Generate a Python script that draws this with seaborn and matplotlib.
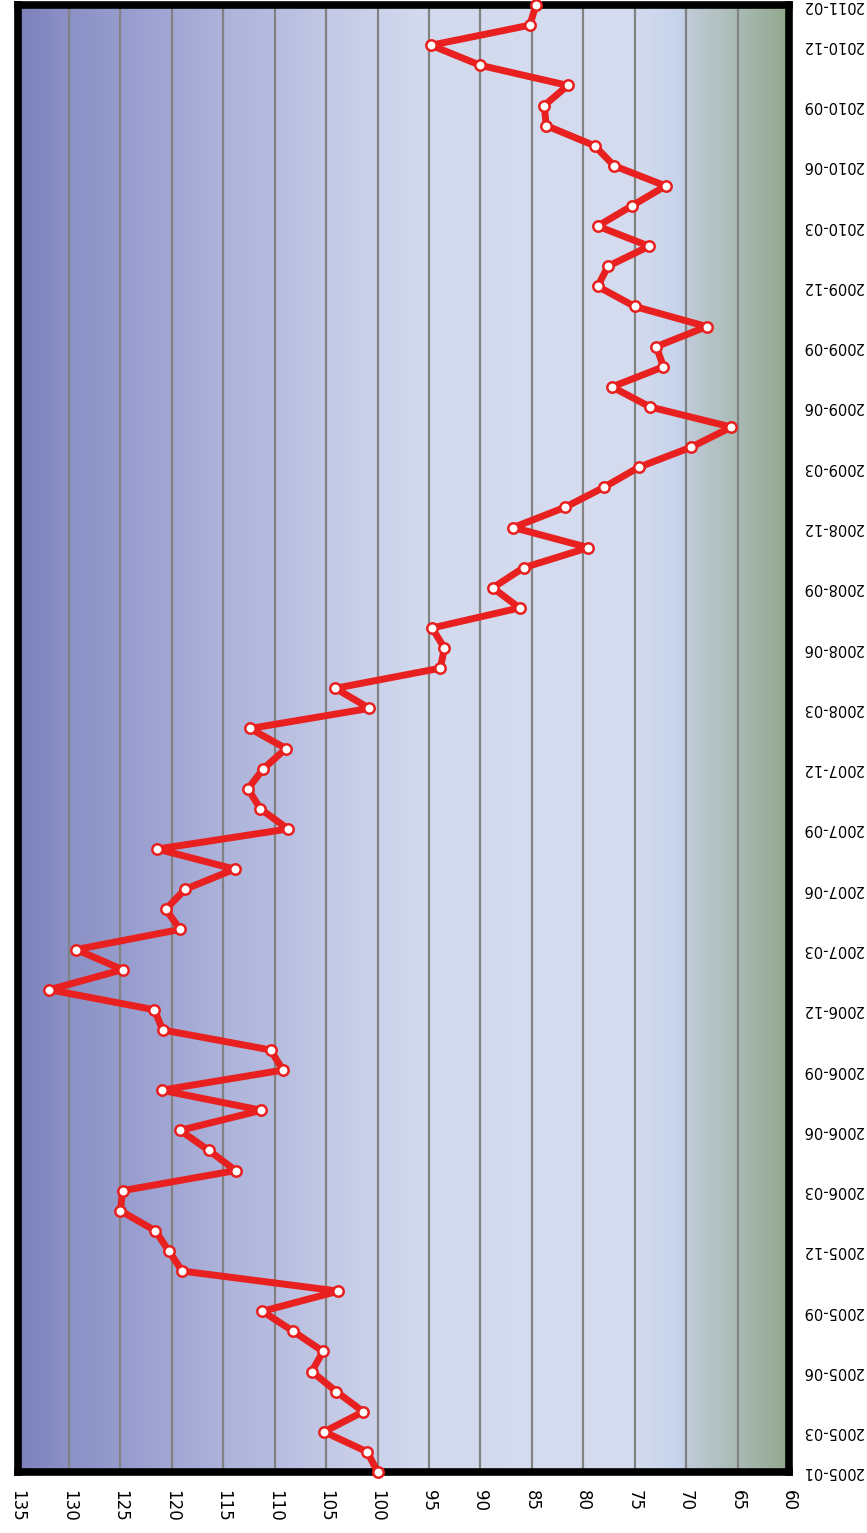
import numpy as np
import pandas as pd
import seaborn as sns
import matplotlib.pyplot as plt
from matplotlib.colors import LinearSegmentedColormap

# monthly index values, 2005-01 .. 2011-02
months = list(pd.date_range("2005-01-01", periods=74, freq="MS").strftime("%Y-%m"))
values = [100.0, 101.0, 105.2, 101.4, 104.0, 106.4, 105.3, 108.2, 111.2, 103.8,
          119.0, 120.3, 121.6, 125.0, 124.8, 113.8, 116.4, 119.2, 111.3, 121.0,
          109.2, 110.4, 120.9, 121.7, 131.9, 124.8, 129.3, 119.2, 120.6, 118.7,
          113.9, 121.4, 108.7, 111.4, 112.6, 111.1, 108.9, 112.4, 100.8, 104.1,
          93.9, 93.5, 94.7, 86.2, 88.8, 85.8, 79.5, 86.8, 81.8, 78.0,
          74.6, 69.5, 65.6, 73.5, 77.2, 72.2, 72.9, 68.0, 75.0, 78.6,
          77.6, 73.6, 78.6, 75.3, 72.0, 77.0, 78.9, 83.6, 83.8, 81.5,
          90.0, 94.8, 85.2, 84.6]

tick_months = ["2005-01", "2005-03", "2005-06", "2005-09", "2005-12",
               "2006-03", "2006-06", "2006-09", "2006-12",
               "2007-03", "2007-06", "2007-09", "2007-12",
               "2008-03", "2008-06", "2008-09", "2008-12",
               "2009-03", "2009-06", "2009-09", "2009-12",
               "2010-03", "2010-06", "2010-09", "2010-12", "2011-02"]
value_ticks = list(range(135, 55, -5))

df = pd.DataFrame({"month": months, "idx": range(len(months)), "value": values})

RED = "#e8201f"

fig = plt.figure(figsize=(8.67, 15.33), dpi=100)
ax = fig.add_axes([0.0203, 0.0398, 0.8897, 0.9569])

# background: blue on the high side, greenish band below 70
stops = [(0.0, "#7e82be"), (0.0667, "#8c91c6"), (0.1333, "#979cce"),
         (0.2, "#a2a7d4"), (0.2667, "#adb3da"), (0.3333, "#b7bde0"),
         (0.4, "#c3c8e5"), (0.4667, "#ccd2ea"), (0.5333, "#d4daee"),
         (0.7333, "#d6dcef"), (0.8, "#d4dbee"), (0.8533, "#c8d4ec"),
         (0.866, "#c4d1ea"), (0.868, "#c0cbd8"), (0.9333, "#aabbb5"),
         (1.0, "#93a78e")]
cmap = LinearSegmentedColormap.from_list("bg", stops)
grad = np.linspace(0, 1, 800).reshape(1, -1)
ax.imshow(grad, cmap=cmap, aspect="auto", extent=[0, 1, 0, 1],
          transform=ax.transAxes, zorder=0, interpolation="bilinear")

sns.lineplot(data=df, x="value", y="idx", sort=False, estimator=None, orient="y",
             color=RED, linewidth=5, marker="o", markersize=7.5,
             markerfacecolor="white", markeredgecolor=RED, markeredgewidth=1.8,
             zorder=4, clip_on=False, ax=ax)

ax.set_xlim(135, 60)
ax.set_ylim(0, 73)

ax.yaxis.tick_right()
ax.set_xticks(value_ticks)
ax.set_xticklabels([str(v) for v in value_ticks], rotation=270)
ax.set_yticks([months.index(m) for m in tick_months])
ax.set_yticklabels(tick_months, rotation=180, va="center")
ax.tick_params(axis="x", length=0, pad=13, labelsize=12)
ax.tick_params(axis="y", length=0, pad=9, labelsize=10.5)
ax.set_xlabel("")
ax.set_ylabel("")

ax.grid(axis="x", color="#828282", linewidth=1.6)
ax.grid(axis="y", visible=False)
ax.set_axisbelow(True)
for s in ax.spines.values():
    s.set_color("black")
    s.set_linewidth(5.5)

fig.savefig("out.png", dpi=100)
